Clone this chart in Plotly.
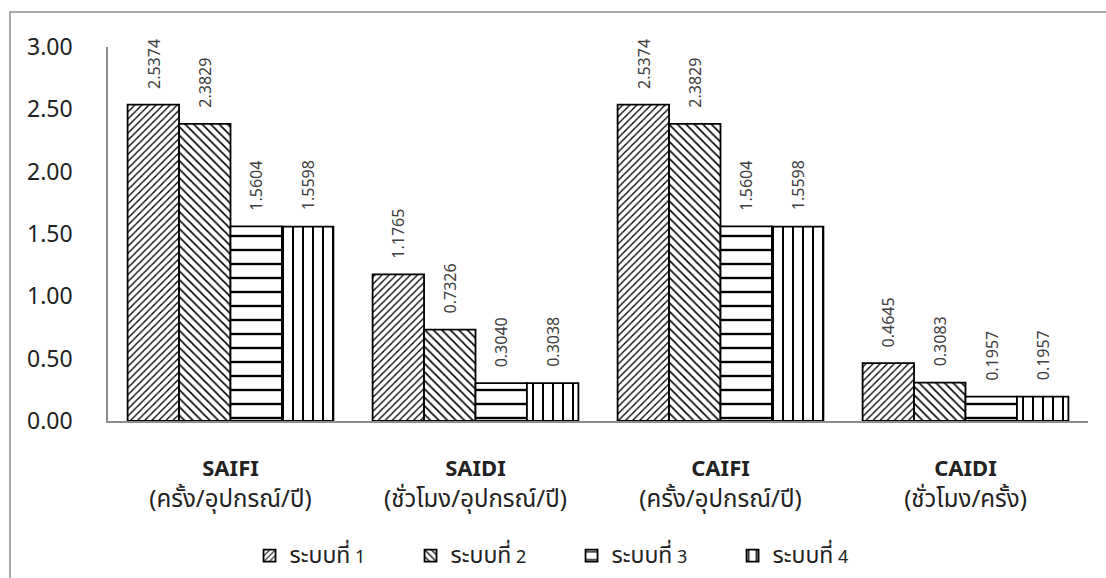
import plotly.graph_objects as go

metric_names = ["SAIFI", "SAIDI", "CAIFI", "CAIDI"]
metric_units = [
    "(ครั้ง/อุปกรณ์/ปี)",
    "(ชั่วโมง/อุปกรณ์/ปี)",
    "(ครั้ง/อุปกรณ์/ปี)",
    "(ชั่วโมง/ครั้ง)",
]
series_prefix = "ระบบที่"
series_numbers = ["1", "2", "3", "4"]
system1 = [2.5374, 1.1765, 2.5374, 0.4645]
system2 = [2.3829, 0.7326, 2.3829, 0.3083]
system3 = [1.5604, 0.3040, 1.5604, 0.1957]
system4 = [1.5598, 0.3038, 1.5598, 0.1957]
y_ticks = [0, 0.5, 1.0, 1.5, 2.0, 2.5, 3.0]

series_values = [system1, system2, system3, system4]
patterns = [
    dict(shape="/", size=5, solidity=0.26),
    dict(shape="\\", size=6, solidity=0.26),
    dict(shape="-", size=14, solidity=0.17),
    dict(shape="|", size=10, solidity=0.2),
]

FONT = "Noto Sans, Noto Sans Thai, sans-serif"
W, H = 1106, 578
M_L, M_R, M_T, M_B = 108, 18, 47, 157
plot_w = W - M_L - M_R
plot_h = H - M_T - M_B
bargap = 0.16
bar_px = plot_w / len(metric_names) * (1 - bargap) / len(series_values)

categories = [
    f"<span style='font-size:22px'><b>{n}</b></span><br>{u}"
    for n, u in zip(metric_names, metric_units)
]
series_names = [
    f"<span style='font-size:23px'>{series_prefix}</span> {k}"
    for k in series_numbers
]

fig = go.Figure()
for name, vals, pat in zip(series_names, series_values, patterns):
    fig.add_trace(go.Bar(
        name=name,
        x=categories,
        y=vals,
        marker=dict(
            color="white",
            line=dict(color="black", width=1.8),
            pattern=dict(fgcolor="black", bgcolor="white", fillmode="replace", **pat),
        ),
    ))

# rotated value labels above each bar
for i, vals in enumerate(series_values):
    shift = (i - (len(series_values) - 1) / 2) * bar_px
    for cat, v in zip(categories, vals):
        fig.add_annotation(
            x=cat, y=v, text=f"{v:.4f}", textangle=-90,
            xref="x", yref="y", showarrow=False,
            xanchor="center", yanchor="bottom",
            xshift=shift, yshift=14,
            font=dict(family=FONT, size=16, color="#404040"),
        )

# outer chart frame (right and bottom edges run off the page)
fig.add_shape(type="rect", xref="paper", yref="paper",
              x0=(10 - M_L) / plot_w, x1=(W + 10 - M_L) / plot_w,
              y0=-(M_B + 20) / plot_h, y1=(H - 12 - M_B) / plot_h,
              line=dict(color="#8c8c8c", width=1.5), layer="below")

fig.update_layout(
    width=W, height=H,
    margin=dict(l=M_L, r=M_R, t=M_T, b=M_B, autoexpand=False),
    paper_bgcolor="white", plot_bgcolor="white",
    barmode="group", bargap=bargap, bargroupgap=0,
    font=dict(family=FONT, color="#222222"),
    showlegend=True,
    legend=dict(
        orientation="h", x=0.473, xanchor="center",
        y=(H - 556 - M_B) / plot_h, yanchor="middle",
        font=dict(family=FONT, size=18, color="#222222"),
        itemwidth=30, entrywidth=116, traceorder="normal",
    ),
    xaxis=dict(
        type="category", showline=True, linecolor="#8c8c8c", linewidth=1.5,
        ticks="", tickfont=dict(family=FONT, size=24, color="#222222"),
        ticklabelstandoff=24, showgrid=False, zeroline=False, automargin=False,
    ),
    yaxis=dict(
        range=[0, 3], tickvals=y_ticks, tickformat=".2f",
        showline=True, linecolor="#8c8c8c", linewidth=1.5,
        ticks="", showgrid=False, zeroline=False, automargin=False,
        tickfont=dict(family=FONT, size=23, color="#222222"),
        ticklabelstandoff=29,
    ),
)

fig.write_html("out.html")
